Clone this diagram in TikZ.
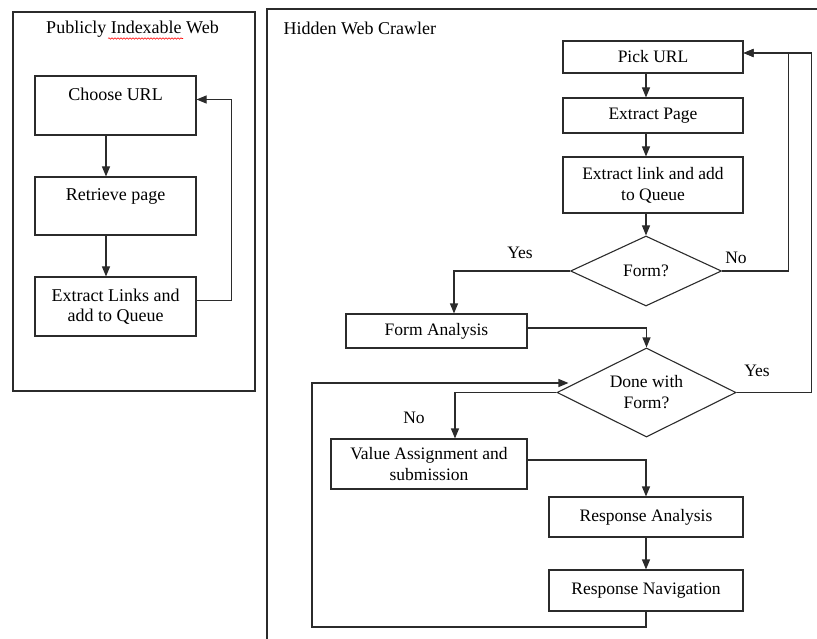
\documentclass[tikz,border=0pt]{standalone}
\usepackage{fontspec}
\setmainfont{Liberation Serif}
\usetikzlibrary{arrows.meta,shapes.geometric,decorations.pathmorphing}
\definecolor{LineGray}{HTML}{2B2B2B}

\begin{document}
\begin{tikzpicture}[x=1pt,y=-1pt,line width=1.1pt,
        lbox/.style={draw=LineGray,minimum width=161pt,inner ysep=0pt,align=center,font=\fontsize{18}{20}\selectfont},
        rbox/.style={draw=LineGray,inner ysep=0pt,align=center,font=\fontsize{17.5}{21}\selectfont},
        decision/.style={draw=LineGray,diamond,aspect=2,inner sep=0pt,align=center,font=\fontsize{17.5}{21}\selectfont},
        arr/.style={draw=LineGray,-{Stealth[inset=0pt,length=10pt,width=8pt]}},
        lbl/.style={font=\fontsize{17.5}{21}\selectfont}]
        \useasboundingbox (0,0) rectangle (817,639);

        % frames
        \draw[LineGray] (13,12) rectangle (255,391);
        \draw[LineGray] (817,9) -- (267,9) -- (267,639);
        \node[font=\fontsize{18}{20}\selectfont] (pubtitle) at (132.5,29) {Publicly Indexable Web};
        \draw[red,line width=0.6pt,decorate,decoration={snake,amplitude=0.7pt,segment length=3pt}] (108,38.5) -- (183,38.5);
        \node[font=\fontsize{18}{20}\selectfont,anchor=west,inner sep=0pt] (hidtitle) at (283,28) {Hidden Web Crawler};

        % publicly indexable web
        \node[lbox,text height=25pt,text depth=34pt] (choose) at (115.5,105.5) {Choose URL};
        \node[lbox,text height=24pt,text depth=34pt] (retrieve) at (115.5,206) {Retrieve page};
        \node[lbox,minimum height=59pt] (extractl) at (115.5,306.5) {Extract Links and\\add to Queue};

        \draw[arr] ([xshift=-9.5pt]choose.south) -- ([xshift=-9.5pt]retrieve.north);
        \draw[arr] ([xshift=-9.5pt]retrieve.south) -- ([xshift=-9.5pt]extractl.north);
        \draw[arr] ([yshift=6pt]extractl.east) -- ++(35,0) |- ([yshift=6pt]choose.east);

        % hidden web crawler
        \node[rbox,minimum width=180pt,minimum height=32pt] (pick) at (653,57) {Pick URL};
        \node[rbox,minimum width=180pt,minimum height=35pt] (extractp) at (653,115.5) {Extract Page};
        \node[rbox,minimum width=180pt,minimum height=56pt] (extractq) at (653,185) {Extract link and add\\to Queue};
        \node[decision,minimum width=151pt,minimum height=70pt] (form) at (646,271) {Form?};
        \node[rbox,minimum width=181pt,minimum height=34pt] (formanal) at (436.5,331) {Form Analysis};
        \node[decision,minimum width=179pt,minimum height=89pt] (done) at (646.5,392.5) {Done with\\Form?};
        \node[rbox,minimum width=196pt,minimum height=50pt] (valasg) at (429,464) {Value Assignment and\\submission};
        \node[rbox,minimum width=194pt,minimum height=40pt] (respa) at (646,517) {Response Analysis};
        \node[rbox,minimum width=194pt,minimum height=41pt] (respn) at (646,590.5) {Response Navigation};

        \node[lbl] (yesform) at (520,253) {Yes};
        \node[lbl] (noform) at (736,258) {No};
        \node[lbl] (yesdone) at (757,371) {Yes};
        \node[lbl] (nodone) at (414,418) {No};

        \draw[arr] (form |- pick.south) -- (form |- extractp.north);
        \draw[arr] (form |- extractp.south) -- (form |- extractq.north);
        \draw[arr] (form |- extractq.south) -- (form.north);
        \draw[arr] (form.west) -| ([xshift=17.5pt]formanal.north);
        \draw[arr] (form.east) -- ++(66.5,0) |- ([yshift=4pt]pick.east);
        \draw[arr] ([yshift=3pt]formanal.east) -| (done.north);
        \draw[arr] (done.east) -- ++(75,0) |- ([yshift=4pt]pick.east);
        \draw[arr] (done.west) -| ([xshift=26pt]valasg.north);
        \draw[arr] ([yshift=4pt]valasg.east) -| (respa.north);
        \draw[arr] (respa.south) -- (respn.north);
        \coordinate (loopcorner) at (312,627);
        \draw[arr] (respn.south) |- (loopcorner) |- ([xshift=12pt,yshift=9.5pt]done.west);
\end{tikzpicture}
\end{document}
